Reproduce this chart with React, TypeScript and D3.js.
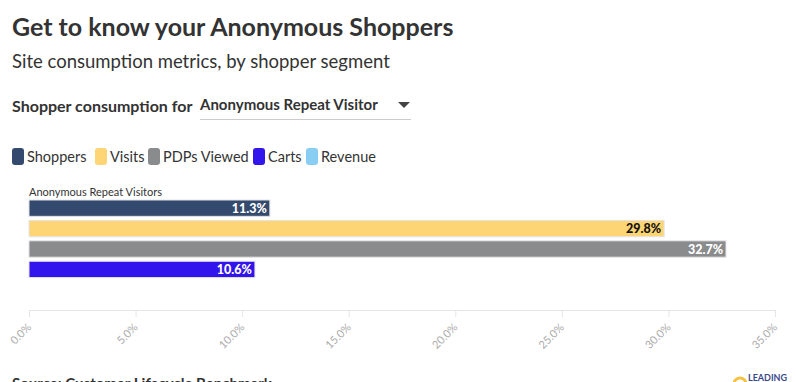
import React from "react";
import * as d3 from "d3";

const segment = "Anonymous Repeat Visitors";
const metrics = ["Shoppers", "Visits", "PDPs Viewed", "Carts", "Revenue"];
const values: (number | null)[] = [11.3, 29.8, 32.7, 10.6, null];
const colors = ["#33496d", "#fed574", "#8a8b8d", "#3214ec", "#88cdf2"];
const labelColors = ["#ffffff", "#111111", "#ffffff", "#ffffff", "#111111"];
const ticks = [0, 5, 10, 15, 20, 25, 30, 35];

const W = 796;
const H = 382;
const FONT = "'Source Sans Pro', Lato, 'Open Sans', sans-serif";

export default function App() {
  const x = d3.scaleLinear().domain([0, 35]).range([29, 775]);
  const y = d3.scaleBand<string>().domain(metrics).range([200, 298]).paddingInner(0.2).paddingOuter(0);
  const fmt = (v: number) => v.toFixed(1) + "%";

  const legendX = [12, 95, 148, 253, 306];

  return (
    <svg width={W} height={H} style={{ position: "absolute", left: 0, top: 0, fontFamily: FONT }}>
      <text x={12} y={36} fontSize={25} fontWeight={700} fill="#333">
        Get to know your Anonymous Shoppers
      </text>
      <text x={12} y={68} fontSize={18.5} fill="#333">
        Site consumption metrics, by shopper segment
      </text>
      <text x={12} y={112} fontSize={16} fontWeight={700} fill="#333">
        Shopper consumption for
      </text>
      <text x={200} y={110} fontSize={15} fontWeight={700} fill="#333">
        Anonymous Repeat Visitor
      </text>
      <path d="M398,102 L410,102 L404,108 Z" fill="#444" />
      <line x1={200} x2={411} y1={119.5} y2={119.5} stroke="#ccc" />

      {metrics.map((m, i) => (
        <g key={m}>
          <rect x={legendX[i]} y={148} width={12} height={17} rx={3} fill={colors[i]} />
          <text x={legendX[i] + 15} y={162} fontSize={14.5} fill="#333">
            {m}
          </text>
        </g>
      ))}

      <text x={29} y={196} fontSize={11} fill="#333">
        {segment}
      </text>

      {metrics.map((m, i) => {
        const v = values[i];
        if (v == null) return null;
        const y0 = y(m)!;
        return (
          <g key={m}>
            <rect
              x={x(0)}
              y={y0}
              width={x(v) - x(0)}
              height={y.bandwidth()}
              fill={colors[i]}
              stroke="#e4e4e8"
              strokeWidth={1}
            />
            <text
              x={x(v) - 3}
              y={y0 + y.bandwidth() / 2 + 4.5}
              textAnchor="end"
              fontSize={12.5}
              fontWeight={900}
              fill={labelColors[i]}
            >
              {fmt(v)}
            </text>
          </g>
        );
      })}

      <line x1={x(0)} x2={x(35)} y1={310.5} y2={310.5} stroke="#e6e6e6" />
      {ticks.map((t) => (
        <g key={t} transform={`translate(${x(t)},310)`}>
          <line x1={0.5} x2={0.5} y1={0} y2={7} stroke="#e6e6e6" />
          <text
            transform="translate(3,18) rotate(-45)"
            textAnchor="end"
            fontSize={11}
            fill="#aaa"
          >
            {fmt(t)}
          </text>
        </g>
      ))}

      <text x={12} y={389} fontSize={15} fontWeight={700} fill="#333">
        Source: Customer Lifecycle Benchmark
      </text>
      <circle cx={740} cy={384} r={6} fill="none" stroke="#f5c242" strokeWidth={3} />
      <text x={748} y={381} fontSize={9} fontWeight={700} fill="#3b4a8c">
        LEADING
      </text>
    </svg>
  );
}
